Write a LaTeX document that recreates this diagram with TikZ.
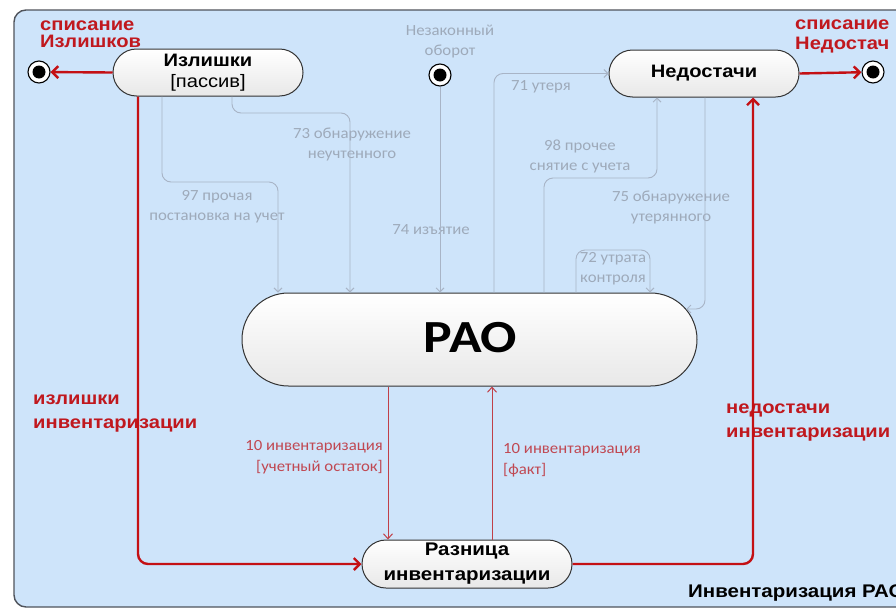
\documentclass[tikz,border=0pt]{standalone}
\usepackage{fontspec}
\setmainfont{Liberation Sans}[FakeStretch=1.12]
\newfontfamily\calfont{Carlito}[FakeStretch=1.08]
\newfontfamily\raofont{Carlito}[FakeStretch=1.17]
\usetikzlibrary{shapes.misc,arrows.meta}

\definecolor{panelblue}{RGB}{206,228,250}
\definecolor{frameline}{RGB}{80,84,92}
\definecolor{gtext}{RGB}{158,170,186}
\definecolor{gline}{RGB}{168,180,198}
\definecolor{rline}{RGB}{196,16,20}
\definecolor{rtext}{RGB}{192,24,30}
\definecolor{rthin}{RGB}{192,64,72}
\definecolor{rthintext}{RGB}{192,72,82}

\begin{document}
\begin{tikzpicture}[x=1pt,y=-1pt,
  state/.style={rounded rectangle, draw=black!80, line width=1pt,
    top color=white, bottom color=black!9, inner sep=0pt, align=center},
  final/.style={circle, draw=black, line width=1.1pt, fill=white,
    minimum size=22pt, inner sep=0pt,
    path picture={\fill[black] (path picture bounding box.center) circle (6.5pt);}},
  glabel/.style={font=\calfont\fontsize{15.5}{20}\selectfont, text=gtext,
    align=center, inner sep=0pt},
  rlabel/.style={text=rtext, align=left, inner sep=0pt, anchor=west},
  rsmall/.style={font=\calfont\fontsize{15.5}{20.5}\selectfont, text=rthintext,
    inner sep=0pt},
  rthick/.style={draw=rline, line width=2.4pt, rounded corners=10pt,
    -{Straight Barb[length=6pt,width=12pt]}},
  rthinarrow/.style={draw=rthin, line width=1pt,
    -{Straight Barb[length=5pt,width=9pt]}},
  garrow/.style={draw=gline, line width=0.9pt, rounded corners=9pt,
    -{Straight Barb[length=4pt,width=8pt]}}]

\useasboundingbox (0,0) rectangle (896,608);
\clip (0,0) rectangle (896,608);

% panel
\fill[white] (0,0) rectangle (896,608);
\draw[fill=panelblue, draw=frameline, line width=1.4pt, rounded corners=12pt]
  (14,10) rectangle (940,607);

% states
\node[state, minimum width=190pt, minimum height=47pt,
  font=\fontsize{18}{21}\selectfont] (izl) at (208,72.5)
  {\textbf{Излишки}\\{}[пассив]};
\node[state, minimum width=190pt, minimum height=47pt,
  font=\bfseries\fontsize{18}{21}\selectfont] (ned) at (704,73.5) {Недостачи};
\node[state, minimum width=455pt, minimum height=93pt] (rao) at (469.5,339.5) {};
\node[font=\raofont\bfseries\fontsize{46}{46}\selectfont, inner sep=0pt] (raotext) at (470,338) {РАО};
\node[state, minimum width=210pt, minimum height=48pt,
  font=\bfseries\fontsize{18.3}{25}\selectfont] (razn) at (467,564)
  {Разница\\инвентаризации};

% final states
\node[final] (fl) at (39,72) {};
\node[final] (nez) at (440,75) {};
\node[final] (fr) at (873,72) {};

% red labels
\node[rlabel, font=\bfseries\fontsize{18}{17.5}\selectfont] (lblL) at (40,34) {списание\\Излишков};
\node[rlabel, font=\bfseries\fontsize{18}{20}\selectfont] (lblR) at (795,36) {списание\\Недостач};
\node[rlabel, font=\bfseries\fontsize{18}{24}\selectfont] (lblIzl) at (33,414) {излишки\\инвентаризации};
\node[rlabel, font=\bfseries\fontsize{18}{24}\selectfont] (lblNed) at (726,423) {недостачи\\инвентаризации};
\node[font=\bfseries\fontsize{18.3}{19}\selectfont, inner sep=0pt, anchor=base west]
  (title) at (688,597) {Инвентаризация РАО};

% grey labels
\node[glabel] (tNez) at (450,42) {Незаконный\\оборот};
\node[glabel] (t71) at (541,87) {71 утеря};
\node[glabel] (t73) at (352,144) {73 обнаружение\\неучтенного};
\node[glabel] (t97) at (217,207) {97 прочая\\постановка на учет};
\node[glabel] (t74) at (431,230) {74 изъятие};
\node[glabel] (t98) at (580,156) {98 прочее\\снятие с учета};
\node[glabel] (t75) at (671,207) {75 обнаружение\\утерянного};
\node[glabel] (t72) at (613,269) {72 утрата\\контроля};

% inventory labels
\node[rsmall, align=right, anchor=east] (t10a) at (383,457) {10 инвентаризация\\{}[учетный остаток]};
\node[rsmall, align=left, anchor=west] (t10b) at (503,460) {10 инвентаризация\\{}[факт]};

% grey transitions
\draw[garrow] (izl.south -| 162,0) |- (278,182) -- (rao.north -| 278,0);
\draw[garrow] (izl.south -| 232,0) |- (350,113) -- (rao.north -| 350,0);
\draw[garrow] (nez) -- (rao.north -| nez);
\draw[garrow] (rao.north -| 494,0) |- (ned.west);
\draw[garrow] (rao.north -| 544,0) |- (657,178) -- (ned.south -| 657,0);
\draw[garrow] (ned.south -| 705,0) |- (rao.8);
\draw[garrow] (rao.north -| 576,0) |- (650,250) -- (rao.north -| 650,0);

% inventory transitions
\draw[rthinarrow] (rao.south -| 388,0) -- (razn.north -| 388,0);
\draw[rthinarrow] (razn.north -| 492,0) -- (rao.south -| 492,0);

% write-off transitions
\draw[rthick] (izl.west) -- (fl);
\draw[rthick] (ned.east) -- (fr);
\draw[rthick] (izl.south -| 138,0) |- (razn.west);
\draw[rthick] (razn.east) -| (ned.south -| 753,0);

\end{tikzpicture}
\end{document}
